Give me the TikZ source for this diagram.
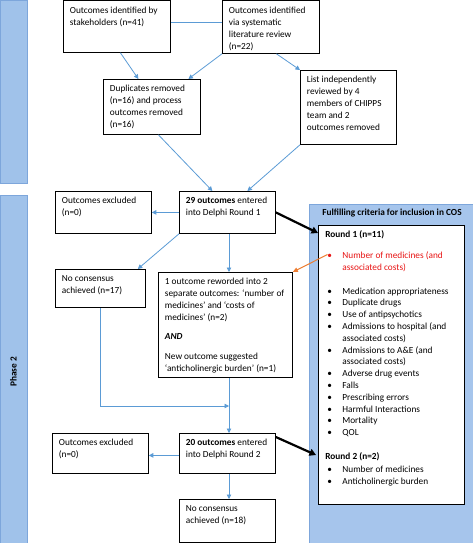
\documentclass[tikz,border=0pt]{standalone}
\usepackage{fontspec}
\setmainfont{Carlito}
\usetikzlibrary{arrows.meta,calc}
\definecolor{lineblue}{RGB}{91,155,213}
\definecolor{stripblue}{RGB}{160,194,234}
\definecolor{stripedge}{RGB}{125,166,219}
\definecolor{panelblue}{RGB}{166,197,236}
\definecolor{arrorange}{RGB}{237,125,49}
\definecolor{redtext}{RGB}{232,20,20}
\newcommand\bxt[3]{\parbox[t][#2][t]{#1}{\raggedright\strut #3}}
\newcommand\bul{\hspace*{2pt}\makebox[15pt][l]{\textbullet}}
\newcommand\hng{\hspace*{17pt}}
\begin{document}
\begin{tikzpicture}[x=1pt,y=-1pt,
  font=\fontsize{9.3}{12}\selectfont,
  box/.style={draw=black, line width=0.8pt, fill=white, anchor=north west, inner xsep=6.5pt, inner ysep=4pt},
  flow/.style={draw=lineblue, line width=0.8pt, -{Triangle[length=4.5pt,width=4.5pt]}},
  link/.style={draw=lineblue, line width=0.8pt},
  bigarrow/.style={draw=black, line width=2.2pt, -{Triangle[length=6.5pt,width=7pt]}},
  orangearrow/.style={draw=arrorange, line width=1pt, -{Triangle[length=5pt,width=4.5pt]}},
  strip/.style={draw=stripedge, line width=0.8pt, fill=stripblue, anchor=north west, inner sep=0pt},
]
\useasboundingbox (0,0) rectangle (473,543);

% side strips and panel
\node[strip, minimum width=27pt, minimum height=183pt] (S1) at (0,0.4) {};
\node[strip, minimum width=27pt, minimum height=348pt] (S2) at (0,195) {};
\node[rotate=90, font=\fontsize{9.3}{12}\selectfont\bfseries] (P2) at (13.5,372) {Phase 2};
\node[strip, draw=stripedge, fill=panelblue, minimum width=164pt, minimum height=339pt] (P) at (309,204) {};
\node[font=\fontsize{9.3}{12}\selectfont\bfseries] (T) at (392,213.5) {Fulfilling criteria for inclusion in COS};

% boxes
\node[box] (A) at (63,0.5) {\bxt{94pt}{43.5pt}{Outcomes identified by\\stakeholders (n=41)}};
\node[box] (B) at (222,0.5) {\bxt{84pt}{44.5pt}{Outcomes identified\\via systematic\\literature review\\(n=22)}};
\node[box] (C) at (103,79) {\bxt{84pt}{47pt}{Duplicates removed\\(n=16) and process\\outcomes removed\\(n=16)}};
\node[box] (D) at (300,70) {\bxt{83pt}{66pt}{List independently\\reviewed by 4\\members of CHIPPS\\team and 2\\outcomes removed}};
\node[box] (E) at (179,191) {\bxt{83pt}{34pt}{\textbf{29 outcomes} entered\\into Delphi Round 1}};
\node[box] (F) at (55,191) {\bxt{83pt}{34pt}{Outcomes excluded\\(n=0)}};
\node[box] (G) at (55,269) {\bxt{77pt}{30pt}{No consensus\\achieved (n=17)}};
\node[box] (H) at (158,272) {\bxt{121pt}{97pt}{1 outcome reworded into 2\\separate outcomes: ‘number of\\medicines’ and ‘costs of\\medicines’ (n=2)\\[7pt]\textbf{\textit{AND}}\\[8pt]New outcome suggested\\‘anticholinergic burden’ (n=1)}};
\node[box] (I) at (179,433) {\bxt{83pt}{32pt}{\textbf{20 outcomes} entered\\into Delphi Round 2}};
\node[box] (J) at (52,433) {\bxt{83pt}{32pt}{Outcomes excluded\\(n=0)}};
\node[box] (K) at (179,499) {\bxt{83pt}{34.5pt}{No consensus\\achieved (n=18)}};

% inclusion list
\node[box, inner xsep=7pt, font=\fontsize{9.3}{11.8}\selectfont] (R) at (318,225) {\parbox[t][271pt][t]{132pt}{\raggedright\strut
\textbf{Round 1 (n=11)}\\[9pt]
{\color{redtext}\bul Number of medicines (and\\\hng associated costs)}\\[12pt]
\bul Medication appropriateness\\
\bul Duplicate drugs\\
\bul Use of antipsychotics\\
\bul Admissions to hospital (and\\\hng associated costs)\\
\bul Admissions to A\&E (and\\\hng associated costs)\\
\bul Adverse drug events\\
\bul Falls\\
\bul Prescribing errors\\
\bul Harmful Interactions\\
\bul Mortality\\
\bul QOL\\[12pt]
\textbf{Round 2 (n=2)}\\[1pt]
\bul Number of medicines\\
\bul Anticholinergic burden}};

% helper coordinates
\coordinate (v) at (229,0);
\coordinate (m) at (229,406);
\coordinate (rb) at (327.5,254.5);

% connectors
\draw[link] ([yshift=-22pt]A.north east) -- ([yshift=-22pt]A.north east -| B.west);
\draw[flow] ([xshift=3.5pt]A.south) -- ([xshift=-13.5pt]C.north);
\draw[flow] (B.south west) -- ([xshift=36.5pt]C.north);
\draw[flow] ([xshift=5.5pt]B.south) -- (D.north west);
\draw[flow] ([xshift=6.5pt]C.south) -- ([xshift=-15pt]E.north);
\draw[flow] (D.south west) -- ([xshift=20pt]E.north);
\draw[flow] (E.west) -- (F.east);
\draw[flow] (E.south west) -- ([xshift=-8pt]G.north east);
\draw[flow] (v |- E.south) -- (v |- H.north);
\draw[flow] (v |- H.south) -- (v |- I.north);
\draw[flow] (G.south) |- (m);
\draw[flow] ([yshift=-2pt]I.west) -- ([yshift=-2pt]J.east);
\draw[flow] (I.south -| v) -- (v |- K.north);
\draw[bigarrow] (E.east) -- ([yshift=-8pt]R.north west);
\draw[bigarrow] ([yshift=-4pt]I.north east) -- ([xshift=-2pt,yshift=-230pt]R.north west);
\draw[orangearrow] (rb) -- (H.north east);
\end{tikzpicture}
\end{document}
